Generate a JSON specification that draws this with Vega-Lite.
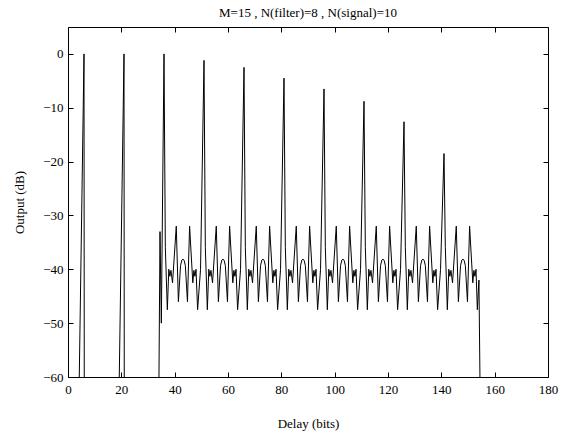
{
  "$schema": "https://vega.github.io/schema/vega-lite/v6.json",
  "width": 480,
  "height": 350,
  "autosize": {"type": "none"},
  "padding": {"left": 68, "top": 27, "right": 13, "bottom": 54},
  "background": "white",
  "title": {"text": "M=15 ,  N(filter)=8 ,  N(signal)=10", "font": "Liberation Serif, Times New Roman, Times, serif", "fontSize": 13, "fontWeight": "normal", "color": "black", "offset": 7},
  "data": {"values": [
    {"x": 4.2, "y": -61}, {"x": 6, "y": 0}, {"x": 6.1, "y": -61},
    {"x": 19.2, "y": -61}, {"x": 21, "y": 0}, {"x": 21.1, "y": -61},
    {"x": 34.1, "y": -61}, {"x": 34.5, "y": -33}, {"x": 35.0, "y": -50}, {"x": 36, "y": 0},
    {"x": 36.5, "y": -36}, {"x": 37.25, "y": -47.5}, {"x": 37.8, "y": -40}, {"x": 38.2, "y": -41.3}, {"x": 38.6, "y": -40.2}, {"x": 39.2, "y": -42.5}, {"x": 40.6, "y": -32}, {"x": 41.4, "y": -46}, {"x": 42.2, "y": -39.3}, {"x": 42.7, "y": -38.3}, {"x": 43.1, "y": -38.1}, {"x": 43.5, "y": -38.3}, {"x": 44, "y": -39.3}, {"x": 44.8, "y": -46}, {"x": 45.6, "y": -32}, {"x": 46.8, "y": -42.5}, {"x": 47.2, "y": -40.2}, {"x": 47.6, "y": -41.3}, {"x": 48, "y": -40}, {"x": 48.6, "y": -47.5}, {"x": 49.7, "y": -40},
    {"x": 51, "y": -1.2},
    {"x": 51.5, "y": -36}, {"x": 52.25, "y": -47.5}, {"x": 52.8, "y": -40}, {"x": 53.2, "y": -41.3}, {"x": 53.6, "y": -40.2}, {"x": 54.2, "y": -42.5}, {"x": 55.6, "y": -32}, {"x": 56.4, "y": -46}, {"x": 57.2, "y": -39.3}, {"x": 57.7, "y": -38.3}, {"x": 58.1, "y": -38.1}, {"x": 58.5, "y": -38.3}, {"x": 59, "y": -39.3}, {"x": 59.8, "y": -46}, {"x": 60.6, "y": -32}, {"x": 61.8, "y": -42.5}, {"x": 62.2, "y": -40.2}, {"x": 62.6, "y": -41.3}, {"x": 63, "y": -40}, {"x": 63.6, "y": -47.5}, {"x": 64.7, "y": -40},
    {"x": 66, "y": -2.5},
    {"x": 66.5, "y": -36}, {"x": 67.25, "y": -47.5}, {"x": 67.8, "y": -40}, {"x": 68.2, "y": -41.3}, {"x": 68.6, "y": -40.2}, {"x": 69.2, "y": -42.5}, {"x": 70.6, "y": -32}, {"x": 71.4, "y": -46}, {"x": 72.2, "y": -39.3}, {"x": 72.7, "y": -38.3}, {"x": 73.1, "y": -38.1}, {"x": 73.5, "y": -38.3}, {"x": 74, "y": -39.3}, {"x": 74.8, "y": -46}, {"x": 75.6, "y": -32}, {"x": 76.8, "y": -42.5}, {"x": 77.2, "y": -40.2}, {"x": 77.6, "y": -41.3}, {"x": 78, "y": -40}, {"x": 78.6, "y": -47.5}, {"x": 79.7, "y": -40},
    {"x": 81, "y": -4.5},
    {"x": 81.5, "y": -36}, {"x": 82.25, "y": -47.5}, {"x": 82.8, "y": -40}, {"x": 83.2, "y": -41.3}, {"x": 83.6, "y": -40.2}, {"x": 84.2, "y": -42.5}, {"x": 85.6, "y": -32}, {"x": 86.4, "y": -46}, {"x": 87.2, "y": -39.3}, {"x": 87.7, "y": -38.3}, {"x": 88.1, "y": -38.1}, {"x": 88.5, "y": -38.3}, {"x": 89, "y": -39.3}, {"x": 89.8, "y": -46}, {"x": 90.6, "y": -32}, {"x": 91.8, "y": -42.5}, {"x": 92.2, "y": -40.2}, {"x": 92.6, "y": -41.3}, {"x": 93, "y": -40}, {"x": 93.6, "y": -47.5}, {"x": 94.7, "y": -40},
    {"x": 96, "y": -6.5},
    {"x": 96.5, "y": -36}, {"x": 97.25, "y": -47.5}, {"x": 97.8, "y": -40}, {"x": 98.2, "y": -41.3}, {"x": 98.6, "y": -40.2}, {"x": 99.2, "y": -42.5}, {"x": 100.6, "y": -32}, {"x": 101.4, "y": -46}, {"x": 102.2, "y": -39.3}, {"x": 102.7, "y": -38.3}, {"x": 103.1, "y": -38.1}, {"x": 103.5, "y": -38.3}, {"x": 104, "y": -39.3}, {"x": 104.8, "y": -46}, {"x": 105.6, "y": -32}, {"x": 106.8, "y": -42.5}, {"x": 107.2, "y": -40.2}, {"x": 107.6, "y": -41.3}, {"x": 108, "y": -40}, {"x": 108.6, "y": -47.5}, {"x": 109.7, "y": -40},
    {"x": 111, "y": -8.8},
    {"x": 111.5, "y": -36}, {"x": 112.25, "y": -47.5}, {"x": 112.8, "y": -40}, {"x": 113.2, "y": -41.3}, {"x": 113.6, "y": -40.2}, {"x": 114.2, "y": -42.5}, {"x": 115.6, "y": -32}, {"x": 116.4, "y": -46}, {"x": 117.2, "y": -39.3}, {"x": 117.7, "y": -38.3}, {"x": 118.1, "y": -38.1}, {"x": 118.5, "y": -38.3}, {"x": 119, "y": -39.3}, {"x": 119.8, "y": -46}, {"x": 120.6, "y": -32}, {"x": 121.8, "y": -42.5}, {"x": 122.2, "y": -40.2}, {"x": 122.6, "y": -41.3}, {"x": 123, "y": -40}, {"x": 123.6, "y": -47.5}, {"x": 124.7, "y": -40},
    {"x": 126, "y": -12.6},
    {"x": 126.5, "y": -36}, {"x": 127.25, "y": -47.5}, {"x": 127.8, "y": -40}, {"x": 128.2, "y": -41.3}, {"x": 128.6, "y": -40.2}, {"x": 129.2, "y": -42.5}, {"x": 130.6, "y": -32}, {"x": 131.4, "y": -46}, {"x": 132.2, "y": -39.3}, {"x": 132.7, "y": -38.3}, {"x": 133.1, "y": -38.1}, {"x": 133.5, "y": -38.3}, {"x": 134, "y": -39.3}, {"x": 134.8, "y": -46}, {"x": 135.6, "y": -32}, {"x": 136.8, "y": -42.5}, {"x": 137.2, "y": -40.2}, {"x": 137.6, "y": -41.3}, {"x": 138, "y": -40}, {"x": 138.6, "y": -47.5}, {"x": 139.7, "y": -40},
    {"x": 141, "y": -18.5},
    {"x": 141.5, "y": -36}, {"x": 142.25, "y": -47.5}, {"x": 142.8, "y": -40}, {"x": 143.2, "y": -41.3}, {"x": 143.6, "y": -40.2}, {"x": 144.2, "y": -42.5}, {"x": 145.6, "y": -32}, {"x": 146.4, "y": -46}, {"x": 147.2, "y": -39.3}, {"x": 147.7, "y": -38.3}, {"x": 148.1, "y": -38.1}, {"x": 148.5, "y": -38.3}, {"x": 149, "y": -39.3}, {"x": 149.8, "y": -46}, {"x": 150.6, "y": -32}, {"x": 151.8, "y": -42.5}, {"x": 152.2, "y": -40.2}, {"x": 152.6, "y": -41.3}, {"x": 153.0, "y": -40}, {"x": 153.5, "y": -47.5}, {"x": 154.1, "y": -42}, {"x": 154.5, "y": -61}
  ]},
  "layer": [
    {
      "mark": {"type": "line", "color": "black", "strokeWidth": 1, "clip": true},
      "encoding": {
        "x": {"field": "x", "type": "quantitative", "scale": {"domain": [0, 180], "nice": false},
              "axis": {"orient": "bottom", "values": [0, 20, 40, 60, 80, 100, 120, 140, 160, 180], "title": "Delay (bits)", "titleY": 50, "titleBaseline": "alphabetic", "labelFlush": false, "labelOverlap": false}},
        "y": {"field": "y", "type": "quantitative", "scale": {"domain": [-60, 5], "nice": false, "zero": false},
              "axis": {"orient": "left", "values": [-60, -50, -40, -30, -20, -10, 0], "title": "Output (dB)", "titlePadding": 16, "labelFlush": false, "labelOverlap": false}}
      }
    },
    {
      "mark": {"type": "line", "opacity": 0},
      "encoding": {
        "x": {"field": "x", "type": "quantitative", "scale": {"domain": [0, 180], "nice": false},
              "axis": {"orient": "top", "values": [0, 20, 40, 60, 80, 100, 120, 140, 160, 180], "labels": false, "title": null}},
        "y": {"field": "y", "type": "quantitative", "scale": {"domain": [-60, 5], "nice": false, "zero": false},
              "axis": {"orient": "right", "values": [-60, -50, -40, -30, -20, -10, 0], "labels": false, "title": null}}
      }
    }
  ],
  "config": {
    "view": {"stroke": "black", "strokeWidth": 1},
    "axis": {"domain": false, "grid": false, "tickColor": "black", "tickSize": -5, "tickWidth": 1,
             "labelFont": "Liberation Serif, Times New Roman, Times, serif", "labelFontSize": 13, "labelColor": "black",
             "titleFont": "Liberation Serif, Times New Roman, Times, serif", "titleFontSize": 13, "titleFontWeight": "normal", "titleColor": "black"},
    "axisX": {"labelPadding": 11},
    "axisY": {"labelPadding": 10}
  }
}
